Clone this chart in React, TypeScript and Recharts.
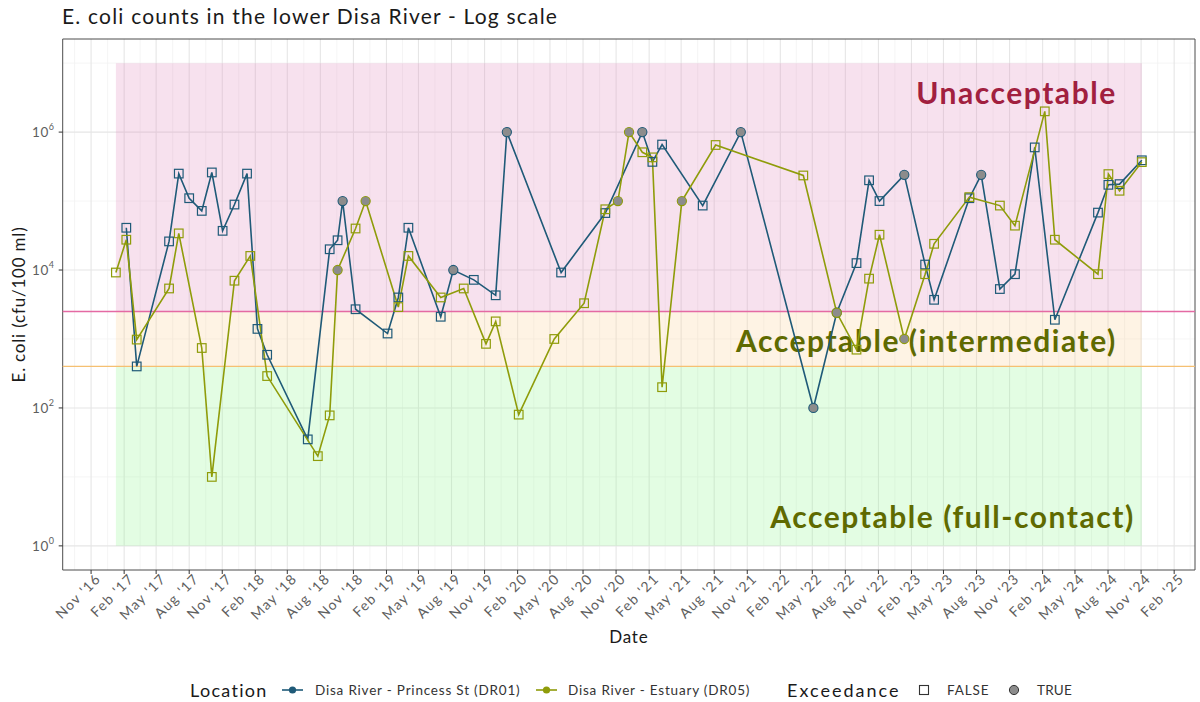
import React from "react"
import {
  ComposedChart,
  Scatter,
  XAxis,
  YAxis,
  CartesianGrid,
  ReferenceArea,
  ReferenceLine,
} from "recharts"

const FONT = "Lato, 'Open Sans', sans-serif"

// Disa River - Princess St (DR01)
const dr01Dates = [
  "2017-02-07", "2017-03-08", "2017-06-06", "2017-07-03", "2017-08-01", "2017-09-05",
  "2017-10-03", "2017-11-02", "2017-12-05", "2018-01-09", "2018-02-07", "2018-03-06",
  "2018-06-27", "2018-08-27", "2018-09-18", "2018-10-02", "2018-11-07", "2019-02-04",
  "2019-03-06", "2019-04-03", "2019-07-02", "2019-08-06", "2019-10-02", "2019-12-02",
  "2020-01-02", "2020-06-01", "2020-10-02", "2021-01-13", "2021-02-10", "2021-03-09",
  "2021-06-30", "2021-10-14", "2022-05-04", "2022-07-08", "2022-09-01", "2022-10-06",
  "2022-11-04", "2023-01-12", "2023-03-11", "2023-04-05", "2023-07-12", "2023-08-14",
  "2023-10-05", "2023-11-16", "2024-01-10", "2024-03-06", "2024-07-04", "2024-08-02",
  "2024-09-02", "2024-11-03",
]
const dr01Counts = [
  41000, 400, 26000, 250000, 110000, 72000,
  260000, 37000, 89000, 250000, 1400, 590,
  35, 20000, 27000, 100000, 2700, 1200,
  4000, 41000, 2100, 10000, 7200, 4300,
  1000000, 9200, 67000, 1000000, 370000, 660000,
  86000, 1000000, 100, 2400, 12600, 200000,
  100000, 240000, 12000, 3700, 110000, 240000,
  5300, 8700, 600000, 1900, 68000, 172000,
  176000, 390000,
]
const dr01Exceed = [
  false, false, false, false, false, false,
  false, false, false, false, false, false,
  false, false, false, true, false, false,
  false, false, false, true, false, false,
  true, false, false, true, false, false,
  false, true, true, true, false, false,
  false, true, false, false, false, true,
  false, false, false, false, false, false,
  false, false,
]

// Disa River - Estuary (DR05)
const dr05Dates = [
  "2017-01-09", "2017-02-07", "2017-03-08", "2017-06-06", "2017-07-03", "2017-09-05",
  "2017-10-03", "2017-12-05", "2018-01-18", "2018-03-06", "2018-07-25", "2018-08-27",
  "2018-09-18", "2018-11-07", "2018-12-05", "2019-03-06", "2019-04-03", "2019-07-02",
  "2019-09-04", "2019-11-05", "2019-12-02", "2020-02-04", "2020-05-13", "2020-08-04",
  "2020-10-02", "2020-11-06", "2020-12-07", "2021-01-13", "2021-02-10", "2021-03-09",
  "2021-05-03", "2021-08-05", "2022-04-06", "2022-07-08", "2022-09-01", "2022-10-06",
  "2022-11-04", "2023-01-12", "2023-03-11", "2023-04-05", "2023-07-12", "2023-10-05",
  "2023-11-16", "2024-02-07", "2024-03-06", "2024-07-04", "2024-08-02", "2024-09-02",
  "2024-11-03",
]
const dr05Counts = [
  9200, 27500, 980, 5400, 34000, 740,
  10, 7000, 16000, 290, 20, 78,
  10000, 40000, 100000, 2900, 16000, 4000,
  5400, 850, 1800, 80, 1000, 3300,
  76000, 100000, 1000000, 510000, 430000, 200,
  100000, 650000, 235000, 2400, 700, 7500,
  32500, 1000, 8700, 24000, 114000, 86000,
  44000, 2000000, 27500, 8700, 246000, 141000,
  367000,
]
const dr05Exceed = [
  false, false, false, false, false, false,
  false, false, false, false, false, false,
  true, false, true, false, false, false,
  false, false, false, false, false, false,
  false, true, true, false, false, false,
  true, false, false, true, false, false,
  false, true, false, false, false, false,
  false, false, false, false, false, false,
  false,
]

const xTickDates = [
  "2016-11-01", "2017-02-01", "2017-05-01", "2017-08-01", "2017-11-01", "2018-02-01",
  "2018-05-01", "2018-08-01", "2018-11-01", "2019-02-01", "2019-05-01", "2019-08-01",
  "2019-11-01", "2020-02-01", "2020-05-01", "2020-08-01", "2020-11-01", "2021-02-01",
  "2021-05-01", "2021-08-01", "2021-11-01", "2022-02-01", "2022-05-01", "2022-08-01",
  "2022-11-01", "2023-02-01", "2023-05-01", "2023-08-01", "2023-11-01", "2024-02-01",
  "2024-05-01", "2024-08-01", "2024-11-01", "2025-02-01",
]
const xDomainDates = ["2016-08-14", "2025-03-31"]

const yTicks = [1, 100, 10000, 1000000]
const yMinorTicks = [10, 1000, 100000, 10000000]
const yDomain = [Math.pow(10, -0.35), Math.pow(10, 7.35)]

const LIMIT_INTERMEDIATE = 400
const LIMIT_UNACCEPTABLE = 2500
const BAND_TOP = 10000000
const BAND_BOTTOM = 1

const COLORS = {
  dr01: "#1F5A78",
  dr05: "#8F9C0A",
  exceed: "#8C8C8C",
  unacceptable: "#DF87BB",
  intermediate: "#FBCF93",
  full: "#8FF78F",
  lineUnacc: "#E46AA3",
  lineInter: "#F5C072",
  labelRed: "#A1203F",
  labelOlive: "#5F6A00",
}

const MONTHS = ["Jan", "Feb", "Mar", "Apr", "May", "Jun", "Jul", "Aug", "Sep", "Oct", "Nov", "Dec"]

const toPoints = (dates: string[], counts: number[], exceed: boolean[]) =>
  dates.map((d, i) => ({ t: Date.parse(d), v: counts[i], exceed: exceed[i] }))

const dr01 = toPoints(dr01Dates, dr01Counts, dr01Exceed)
const dr05 = toPoints(dr05Dates, dr05Counts, dr05Exceed)

const allT = [...dr01, ...dr05].map((p) => p.t)
const dataStart = Math.min(...allT)
const dataEnd = Math.max(...allT)

const xTicks = xTickDates.map((d) => Date.parse(d))
const xDomain = xDomainDates.map((d) => Date.parse(d))
// minor breaks sit halfway between the quarterly majors (one extra each side)
const quarterEdges = [Date.parse("2016-08-01"), ...xTicks, Date.parse("2025-05-01")]
const xMinor = quarterEdges.slice(1).map((t, i) => (t + quarterEdges[i]) / 2)

const fmtTick = (t: number) => {
  const d = new Date(t)
  return `${MONTHS[d.getUTCMonth()]} '${String(d.getUTCFullYear()).slice(2)}`
}

// eslint-disable-next-line @typescript-eslint/no-explicit-any
const XTick = ({ x, y, payload }: any) => (
  <g transform={`translate(${x},${y})`}>
    <text
      transform="rotate(-45)"
      textAnchor="end"
      dy="0.72em"
      dx={5}
      fill="#5e5e5e"
      fontSize={14}
      letterSpacing={1.3}
      fontFamily={FONT}
    >
      {fmtTick(payload.value)}
    </text>
  </g>
)

// eslint-disable-next-line @typescript-eslint/no-explicit-any
const YTick = ({ x, y, payload }: any) => (
  <text
    x={x}
    y={y}
    dy={5}
    textAnchor="end"
    fill="#5e5e5e"
    fontSize={13.5}
    letterSpacing={0.6}
    fontFamily={FONT}
  >
    10
    <tspan dy={-7} fontSize={9}>
      {Math.round(Math.log10(payload.value))}
    </tspan>
  </text>
)

// eslint-disable-next-line @typescript-eslint/no-explicit-any
const makeMarker = (color: string) => (props: any) => {
  const { cx, cy, payload } = props
  if (cx == null || cy == null) return <g />
  if (payload.exceed) {
    return <circle cx={cx} cy={cy} r={4.6} fill={COLORS.exceed} stroke={color} strokeWidth={1.1} />
  }
  return (
    <rect x={cx - 4.3} y={cy - 4.3} width={8.6} height={8.6} fill="none" stroke={color} strokeWidth={1.2} />
  )
}

const noMarker = () => <g />

// eslint-disable-next-line @typescript-eslint/no-explicit-any
const BandLabel = ({ viewBox, text, color, right, baseline }: any) => {
  if (!viewBox) return null
  return (
    <text
      x={viewBox.x + viewBox.width - right}
      y={viewBox.y + baseline}
      textAnchor="end"
      fill={color}
      fontSize={30}
      fontWeight={700}
      letterSpacing={1.55}
      fontFamily={FONT}
    >
      {text}
    </text>
  )
}

// eslint-disable-next-line @typescript-eslint/no-explicit-any
const YTitle = ({ viewBox }: any) => (
  <text
    transform={`translate(19, ${viewBox.y + viewBox.height / 2}) rotate(-90)`}
    textAnchor="middle"
    dy="0.35em"
    fontSize={17}
    letterSpacing={0.8}
    fill="#1a1a1a"
    fontFamily={FONT}
  >
    E. coli (cfu/100 ml)
  </text>
)

// eslint-disable-next-line @typescript-eslint/no-explicit-any
const XTitle = ({ viewBox }: any) => (
  <text
    x={viewBox.x + viewBox.width / 2}
    y={643}
    textAnchor="middle"
    fontSize={17}
    letterSpacing={0.8}
    fill="#1a1a1a"
    fontFamily={FONT}
  >
    Date
  </text>
)

const ChartLegend = () => (
  <svg
    width={1200}
    height={40}
    style={{ position: "absolute", left: 0, top: 670 }}
    fontFamily={FONT}
  >
    <g dominantBaseline="central">
      <text x={190} y={20} fontSize={18} letterSpacing={1.3} fill="#1a1a1a">
        Location
      </text>
      <line x1={282} y1={20} x2={303} y2={20} stroke={COLORS.dr01} strokeWidth={1.6} />
      <circle cx={292.5} cy={20} r={3.6} fill={COLORS.dr01} />
      <text x={315} y={20} fontSize={13.5} letterSpacing={0.8} fill="#333">
        Disa River - Princess St (DR01)
      </text>
      <line x1={536} y1={20} x2={557} y2={20} stroke={COLORS.dr05} strokeWidth={1.6} />
      <circle cx={546.5} cy={20} r={3.6} fill={COLORS.dr05} />
      <text x={568} y={20} fontSize={13.5} letterSpacing={0.8} fill="#333">
        Disa River - Estuary (DR05)
      </text>
      <text x={787} y={20} fontSize={18} letterSpacing={2} fill="#1a1a1a">
        Exceedance
      </text>
      <rect x={919.5} y={15.5} width={9} height={9} fill="none" stroke="#333" strokeWidth={1.1} />
      <text x={947} y={20} fontSize={13.5} letterSpacing={0.9} fill="#333">
        FALSE
      </text>
      <circle cx={1014} cy={20} r={4.6} fill={COLORS.exceed} stroke="#333" strokeWidth={1} />
      <text x={1037} y={20} fontSize={13.5} letterSpacing={0.2} fill="#333">
        TRUE
      </text>
    </g>
  </svg>
)

export default function App() {
  return (
    <div
      style={{
        position: "absolute",
        left: 0,
        top: 0,
        width: 1200,
        height: 702,
        background: "#fff",
        fontFamily: FONT,
      }}
    >
      <div
        style={{
          position: "absolute",
          left: 62,
          top: 3,
          fontSize: 21,
          letterSpacing: 1.2,
          color: "#1a1a1a",
          whiteSpace: "nowrap",
        }}
      >
        E. coli counts in the lower Disa River - Log scale
      </div>
      <ComposedChart width={1200} height={702} margin={{ top: 39, right: 5, bottom: 0, left: 0 }}>
        <CartesianGrid
          stroke="#F2F2F2"
          strokeWidth={0.8}
          horizontalValues={yMinorTicks}
          verticalValues={xMinor}
        />
        <CartesianGrid
          stroke="#E6E6E6"
          strokeWidth={1.1}
          horizontalValues={yTicks}
          verticalValues={xTicks}
        />
        <XAxis
          type="number"
          dataKey="t"
          domain={xDomain}
          allowDataOverflow
          ticks={xTicks}
          interval={0}
          tick={<XTick />}
          tickSize={4}
          tickMargin={2}
          tickLine={{ stroke: "#333" }}
          axisLine={false}
          height={132}
          label={<XTitle />}
        />
        <YAxis
          type="number"
          dataKey="v"
          scale="log"
          domain={yDomain}
          allowDataOverflow
          ticks={yTicks}
          interval={0}
          tick={<YTick />}
          tickSize={4}
          tickMargin={4}
          tickLine={{ stroke: "#333" }}
          axisLine={false}
          width={62.7}
          label={<YTitle />}
        />
        <ReferenceArea
          x1={dataStart}
          x2={dataEnd}
          y1={LIMIT_UNACCEPTABLE}
          y2={BAND_TOP}
          fill={COLORS.unacceptable}
          fillOpacity={0.25}
          stroke="none"
          label={<BandLabel text="Unacceptable" color={COLORS.labelRed} right={25} baseline={41} />}
        />
        <ReferenceArea
          x1={dataStart}
          x2={dataEnd}
          y1={LIMIT_INTERMEDIATE}
          y2={LIMIT_UNACCEPTABLE}
          fill={COLORS.intermediate}
          fillOpacity={0.25}
          stroke="none"
          label={
            <BandLabel text="Acceptable (intermediate)" color={COLORS.labelOlive} right={25} baseline={40} />
          }
        />
        <ReferenceArea
          x1={dataStart}
          x2={dataEnd}
          y1={BAND_BOTTOM}
          y2={LIMIT_INTERMEDIATE}
          fill={COLORS.full}
          fillOpacity={0.25}
          stroke="none"
          label={
            <BandLabel text="Acceptable (full-contact)" color={COLORS.labelOlive} right={7} baseline={162} />
          }
        />
        <ReferenceLine y={LIMIT_UNACCEPTABLE} stroke={COLORS.lineUnacc} strokeWidth={1.4} />
        <ReferenceLine y={LIMIT_INTERMEDIATE} stroke={COLORS.lineInter} strokeWidth={1.4} />
        <Scatter
          data={dr01}
          line={{ stroke: COLORS.dr01, strokeWidth: 1.6 }}
          shape={noMarker}
          isAnimationActive={false}
        />
        <Scatter
          data={dr05}
          line={{ stroke: COLORS.dr05, strokeWidth: 1.6 }}
          shape={noMarker}
          isAnimationActive={false}
        />
        <Scatter data={dr01} shape={makeMarker(COLORS.dr01)} isAnimationActive={false} />
        <Scatter data={dr05} shape={makeMarker(COLORS.dr05)} isAnimationActive={false} />
        <ReferenceArea
          x1={xDomain[0]}
          x2={xDomain[1]}
          y1={yDomain[0]}
          y2={yDomain[1]}
          fill="none"
          stroke="#4d4d4d"
          strokeWidth={1}
          ifOverflow="visible"
        />
      </ComposedChart>
      <ChartLegend />
    </div>
  )
}
